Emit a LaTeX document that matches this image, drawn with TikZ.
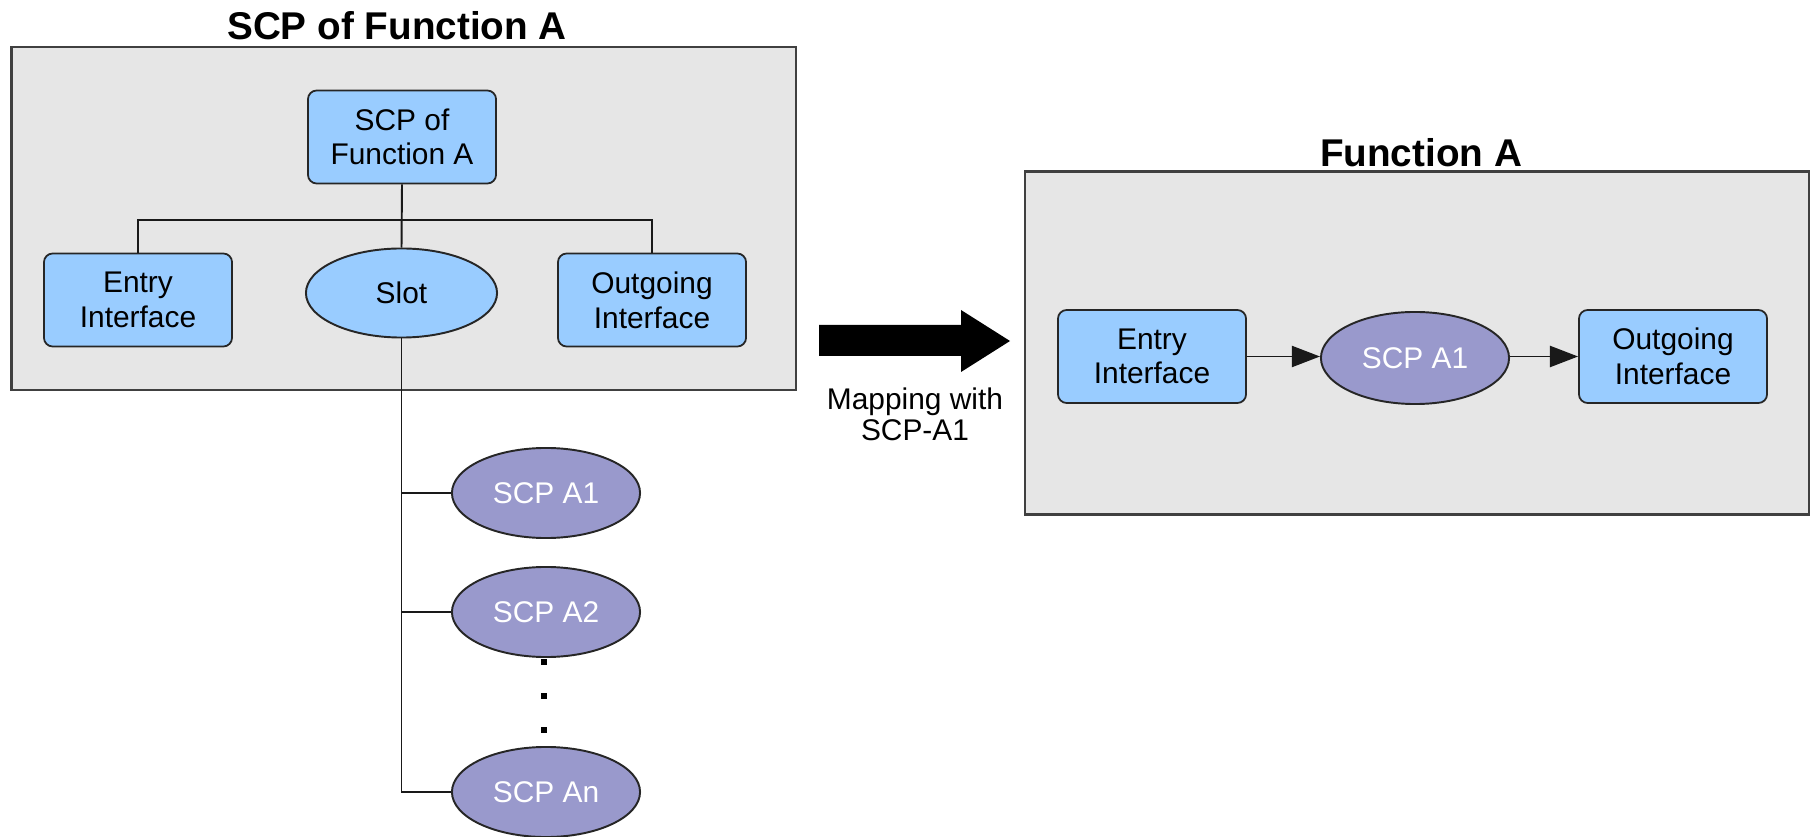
\documentclass[tikz,border=0pt]{standalone}
\usepackage{fontspec}
\setmainfont{Liberation Sans}
\usepackage{tikz}
\usetikzlibrary{shapes.geometric,arrows.meta}

\definecolor{panelgray}{RGB}{230,230,230}
\definecolor{ifblue}{RGB}{153,204,255}
\definecolor{scpviolet}{RGB}{153,153,204}

\begin{document}
\begin{tikzpicture}[x=0.01cm,y=-0.01cm,
        panel/.style={draw=black!75,line width=0.6pt,fill=panelgray},
        heading/.style={font=\fontsize{11}{13}\selectfont\bfseries},
        ifbox/.style={draw=black!85,line width=0.5pt,fill=ifblue,rounded corners=2.5pt,
            minimum width=1.88cm,minimum height=0.93cm,align=center,inner sep=0pt,
            font=\fontsize{8.5}{9.85}\selectfont},
        slotnode/.style={ellipse,draw=black!85,line width=0.55pt,fill=ifblue,
            minimum width=1.91cm,minimum height=0.89cm,inner sep=0pt,
            font=\fontsize{8.5}{9.85}\selectfont},
        scpnode/.style={ellipse,draw=black!85,line width=0.55pt,fill=scpviolet,
            minimum width=1.88cm,minimum height=0.9cm,inner sep=0pt,text=white,
            font=\fontsize{8.5}{9.85}\selectfont},
        dotmark/.style={fill=black,minimum size=0.06cm,inner sep=0pt},
        link/.style={draw=black!90,line width=0.55pt},
        flow/.style={link,-{Triangle[length=8pt,width=6pt]}}]
                \useasboundingbox
                    (0,0) rectangle (1812,837);
                % left panel
                \path[panel]
                    (11.5,47) rectangle (796,390);
                \node[heading] (ltitle)
                    at (397,26) {SCP of Function A};
                \node[ifbox] (top)
                    at (402,137) {SCP of\\Function A};
                \node[ifbox] (entry)
                    at (138,300) {Entry\\Interface};
                \node[slotnode] (slot)
                    at (401.5,293) {Slot};
                \node[ifbox] (outgo)
                    at (652,300) {Outgoing\\Interface};
                \coordinate (split)
                    at (402,220);
                \draw[link] (top.south) -- (slot.north);
                \draw[link] (entry.north) |- (split) -| (outgo.north);
                % candidates for the slot
                \node[scpnode] (a1)
                    at (546,493) {SCP A1};
                \node[scpnode] (a2)
                    at (546,612) {SCP A2};
                \node[scpnode] (an)
                    at (546,792) {SCP An};
                \node[dotmark] (dot1)
                    at (544,662) {};
                \node[dotmark] (dot2)
                    at (544,696) {};
                \node[dotmark] (dot3)
                    at (544,730) {};
                \draw[link] (slot.south) |- (an.west);
                \draw[link] (slot.south |- a1.west) -- (a1.west);
                \draw[link] (slot.south |- a2.west) -- (a2.west);
                % mapping arrow
                \path[fill=black]
                    (819,325) -- (961,325) -- (961,310) -- (1010,341)
                    -- (961,372) -- (961,356) -- (819,356) -- cycle;
                \node[align=center,font=\fontsize{8.5}{8.8}\selectfont] (maplabel)
                    at (915,414) {Mapping with\\SCP-A1};
                % right panel
                \path[panel]
                    (1025,171.5) rectangle (1809,514.5);
                \node[heading] (rtitle)
                    at (1421,153) {Function A};
                \node[ifbox] (rentry)
                    at (1152,356.5) {Entry\\Interface};
                \node[scpnode,minimum height=0.92cm] (rscp)
                    at (1415,358) {SCP A1};
                \node[ifbox] (routgo)
                    at (1673,356.5) {Outgoing\\Interface};
                \draw[flow] (rentry) -- (rscp.west |- rentry);
                \draw[flow] (rscp.east |- routgo) -- (routgo);
            \end{tikzpicture}
\end{document}
